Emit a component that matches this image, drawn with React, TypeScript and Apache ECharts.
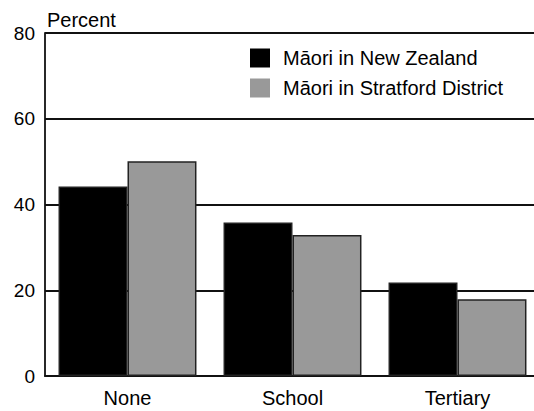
import React, { useEffect, useRef } from "react";
import * as echarts from "echarts";

const categories = ["None", "School", "Tertiary"];
const seriesNames = ["Māori in New Zealand", "Māori in Stratford District"];
const nzValues = [44.2, 35.8, 21.8];
const stratfordValues = [50.1, 32.9, 17.9];
const yMin = 0;
const yMax = 80;
const yInterval = 20;

const FONT = "Liberation Sans";

export default function App() {
  const ref = useRef<HTMLDivElement>(null);
  useEffect(() => {
    if (!ref.current) return;
    const chart = echarts.init(ref.current, null, { renderer: "svg" });
    chart.setOption({
      animation: false,
      backgroundColor: "#ffffff",
      grid: { left: 45, right: 0, top: 33, bottom: 35, containLabel: false },
      legend: {
        orient: "vertical",
        left: 245,
        top: 43,
        itemWidth: 20,
        itemHeight: 19,
        itemGap: 10,
        icon: "rect",
        itemStyle: { borderWidth: 0 },
        textStyle: {
          fontFamily: FONT,
          fontSize: 20,
          color: "#000",
          padding: [0, 0, 0, 8],
        },
        data: seriesNames,
      },
      xAxis: {
        type: "category",
        data: categories,
        axisLine: { show: true, lineStyle: { color: "#111", width: 1.8 } },
        axisTick: { show: false },
        axisLabel: {
          fontFamily: FONT,
          fontSize: 20,
          color: "#000",
          margin: 12,
        },
        splitLine: { show: false },
      },
      yAxis: {
        type: "value",
        min: yMin,
        max: yMax,
        interval: yInterval,
        name: "Percent",
        nameLocation: "end",
        nameGap: 3,
        nameTextStyle: {
          fontFamily: FONT,
          fontSize: 20,
          color: "#000",
          align: "left",
          verticalAlign: "bottom",
          padding: [0, 0, 0, 2],
        },
        axisLine: { show: true, lineStyle: { color: "#111", width: 1.8 } },
        axisTick: { show: false },
        axisLabel: {
          fontFamily: FONT,
          fontSize: 19,
          color: "#000",
          margin: 10,
        },
        splitLine: { show: true, lineStyle: { color: "#111", width: 1.8 } },
      },
      series: [
        {
          name: seriesNames[0],
          type: "bar",
          data: nzValues,
          barGap: "0%",
          barCategoryGap: "16.4%",
          itemStyle: { color: "#000000", borderColor: "#222", borderWidth: 1.5 },
        },
        {
          name: seriesNames[1],
          type: "bar",
          data: stratfordValues,
          barGap: "0%",
          barCategoryGap: "16.4%",
          itemStyle: { color: "#999999", borderColor: "#222", borderWidth: 1.5 },
        },
      ],
    });
    return () => chart.dispose();
  }, []);
  return (
    <div
      style={{
        position: "fixed",
        left: 0,
        top: 0,
        width: 534,
        height: 411,
        overflow: "hidden",
        background: "#fff",
      }}
    >
      <div ref={ref} style={{ width: 540, height: 411 }} />
    </div>
  );
}
